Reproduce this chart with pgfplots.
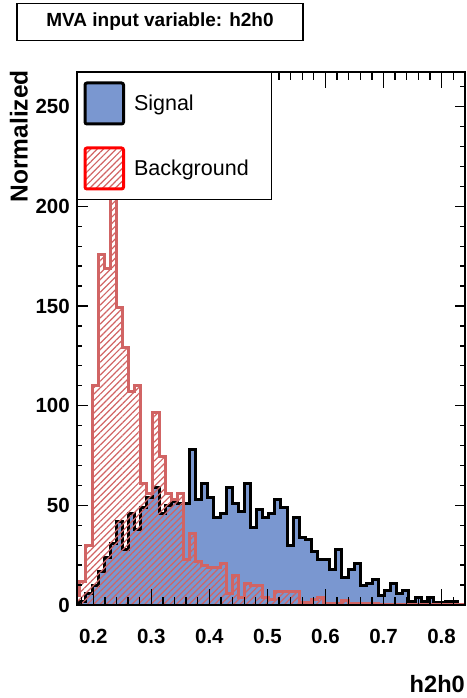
\documentclass[border=0pt]{standalone}
\usepackage{pgfplots}
\pgfplotsset{compat=1.18}
\usepackage{pgfplotstable}
\usepackage{fontspec}
\setmainfont{Liberation Sans}
\usetikzlibrary{patterns.meta}
\definecolor{sigblue}{RGB}{122,151,208}
\definecolor{bkgred}{RGB}{209,100,100}

\pgfplotstableread{
x sig bkg
0.1664 0.5 5
0.1769 2 12
0.1874 6 30
0.1979 10 110
0.2084 17 176
0.2189 24 169
0.2294 31 207
0.2399 42 149
0.2504 28 129
0.2609 46 107
0.2714 38 110
0.2819 49 61
0.2924 54 56
0.3029 59 96.5
0.3134 46 74.5
0.3239 50 56
0.3344 52 53
0.3449 51 56
0.3554 51 22.6
0.3659 78 36
0.3764 53 22
0.3869 61 20
0.3974 54 19
0.4079 44 19
0.4184 46 21
0.4289 59 6
0.4394 51 15
0.4499 47 4
0.4604 61 11
0.4709 39 10
0.4814 48 10
0.4919 44 4
0.5024 46 3
0.5129 53 7
0.5234 49 7
0.5339 30 7
0.5444 44 7
0.5549 34 1.5
0.5654 33 1.5
0.5759 27 3
0.5864 23 4
0.5969 23 1
0.6074 17.6 1
0.6179 27.6 1
0.6284 14 2.5
0.6389 17.6 1
0.6494 21 0.8
0.6599 10 0.8
0.6704 11 0.6
0.6809 12.6 0.6
0.6914 5 0.5
0.7019 7.5 0.5
0.7124 11 0.5
0.7229 6 0.5
0.7334 7.5 0.5
0.7439 2 0.5
0.7544 3.7 0.5
0.7649 1.7 0.5
0.7754 3.7 0.5
0.7859 1.2 0.5
0.7964 1.2 0.5
0.8069 1.7 0.5
0.8174 1.7 0.5
0.8279 0.5 0.5
0.8384 0.5 0.5
0.8489 0.5 0.5
}\histdata

\begin{document}
\begin{tikzpicture}[x=1pt,y=1pt]
\useasboundingbox (0,0) rectangle (466,698);
\node[draw=black, line width=1.2pt, minimum width=286pt, minimum height=37pt, inner sep=0pt,
      font=\fontsize{19}{22}\selectfont\bfseries] at (160,676) {MVA input variable: h2h0};
\begin{axis}[
  name=ax,
  at={(77pt,93pt)}, anchor=south west,
  width=388pt, height=533pt, scale only axis,
  xmin=0.172, xmax=0.8404, ymin=0, ymax=267.4,
  axis on top,
  axis line style={line width=1.3pt},
  tick align=inside,
  xtick={0.2,0.3,0.4,0.5,0.6,0.7,0.8},
  minor xtick={0.18,0.22,0.24,0.26,0.28,0.32,0.34,0.36,0.38,0.42,0.44,0.46,0.48,0.52,0.54,0.56,0.58,0.62,0.64,0.66,0.68,0.72,0.74,0.76,0.78,0.82,0.84},
  ytick={0,50,100,150,200,250},
  minor ytick={10,20,30,40,60,70,80,90,110,120,130,140,160,170,180,190,210,220,230,240,260},
  xtick style={line width=1.3pt, black, /pgfplots/major tick length=16pt, /pgfplots/minor tick length=8pt},
  ytick style={line width=1.3pt, black, /pgfplots/major tick length=10.5pt, /pgfplots/minor tick length=5pt},
  /pgf/number format/assume math mode=true,
  ticklabel style={font=\fontsize{20.5}{24}\selectfont\bfseries, inner sep=0pt},
  xticklabel style={/pgf/number format/fixed, /pgf/number format/precision=1, /pgf/number format/fixed zerofill, yshift=-24pt},
  yticklabel style={xshift=-7pt},
  scaled x ticks=false,
  xlabel={h2h0},
  xlabel style={at={(rel axis cs:1,0)}, anchor=north east, inner sep=0pt, yshift=-70pt,
                font=\fontsize{23.6}{26}\selectfont\bfseries},
  legend style={at={(0,1)}, anchor=north west, draw=black, line width=1pt, fill=white,
                inner xsep=6pt, inner ysep=9pt, row sep=21pt, column sep=9pt,
                font=\fontsize{21.5}{24}\selectfont,
                nodes={inner sep=0pt, text width=131pt, align=left}},
  legend cell align=left,
]
\addplot[const plot, fill=sigblue, draw=black, line width=3pt, forget plot]
  table[x=x, y=sig] {\histdata} \closedcycle;
\addplot[const plot, pattern={Lines[angle=45, distance=4.5pt, line width=1.2pt]}, pattern color=bkgred,
         draw=bkgred, line width=3pt, forget plot]
  table[x=x, y=bkg] {\histdata} \closedcycle;
\addlegendimage{legend image code/.code={\draw[fill=sigblue, draw=black, line width=3pt, rounded corners=2pt] (1.5pt,-20.5pt) rectangle (40pt,20.5pt);}}
\addlegendentry{Signal}
\addlegendimage{legend image code/.code={\draw[pattern={Lines[angle=45, distance=4.5pt, line width=1.2pt]}, pattern color=bkgred, draw=red, line width=3pt, rounded corners=2pt] (1.5pt,-20.5pt) rectangle (40pt,20.5pt);}}
\addlegendentry{Background}
\end{axis}
\node[rotate=90, anchor=south east, inner sep=0pt,
      font=\fontsize{24.5}{27}\selectfont\bfseries] at (28,628) {Normalized};
\end{tikzpicture}
\end{document}
